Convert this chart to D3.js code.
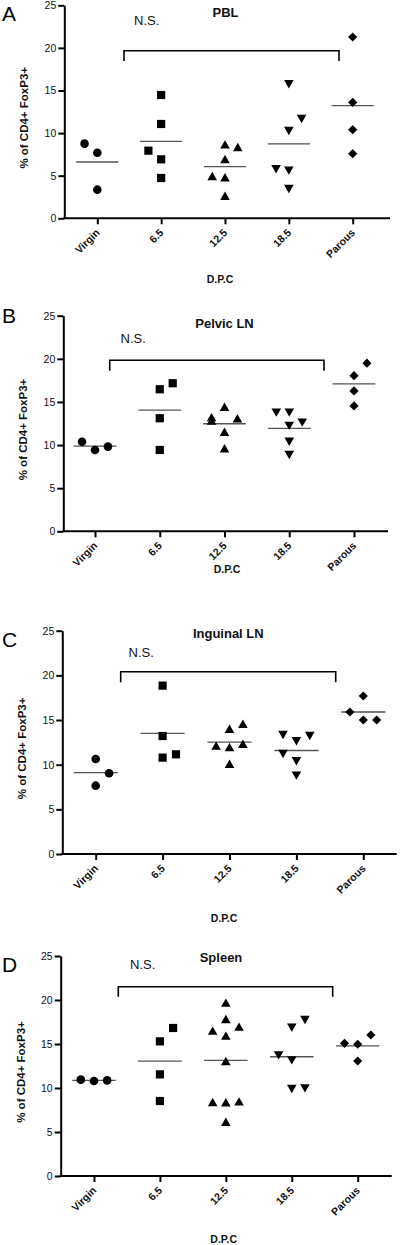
<!DOCTYPE html>
<html><head><meta charset="utf-8">
<script src="https://cdn.jsdelivr.net/npm/d3@7"></script>
<style>
html,body{margin:0;padding:0;background:#fff;}
svg{display:block;font-family:"Liberation Sans",Arial,sans-serif;}
</style></head>
<body>
<svg id="chart" width="400" height="1245"></svg>
<script>
// ---- data ----
const categories = ["Virgin", "6.5", "12.5", "18.5", "Parous"];
const panelLetters = ["A", "B", "C", "D"];
const panelTitles = ["PBL", "Pelvic LN", "Inguinal LN", "Spleen"];
const yTicks = [0, 5, 10, 15, 20, 25];
const yLabel = "% of CD4+ FoxP3+";
const xLabel = "D.P.C";
const sigLabel = "N.S.";

const pblValues = [[8.76, 7.70, 3.36], [14.47, 11.07, 7.94, 6.92, 4.73], [8.68, 8.37, 6.96, 4.96, 4.81, 2.65], [15.73, 11.65, 10.25, 5.75, 5.59, 3.44], [21.28, 13.6, 10.4, 7.58]];
const pblSlots  = [[-1, 0, 0], [0, 0, -1, 0, 0], [0, 1, 0, -1, 0, 0], [0, 1, 0, -1, 0, 0], [0, 0, 0, 0]];

const pelvicValues = [[10.39, 9.43, 9.82], [17.17, 16.47, 13.11, 9.43], [14.45, 13.24, 12.83, 13.11, 11.55, 9.63], [13.76, 13.76, 12.22, 12.6, 10.39, 8.85], [19.49, 18.05, 16.28, 14.54]];
const pelvicSlots  = [[-1, 0, 1], [1, 0, 0, 0], [0, -1, -1, 1, 0, 0], [-1, 0, 0, 1, 0, 0], [1, 0, 0, 0]];

const inguinalValues = [[10.64, 9.04, 7.65], [18.85, 13.21, 11.16, 10.79], [14.59, 14.03, 12.13, 12.35, 11.98, 10.11], [13.33, 13.21, 12.62, 11.2, 10.38, 8.77], [17.69, 15.9, 15.0, 15.0]];
const inguinalSlots  = [[0, 1, 0], [0, 0, 1, 0], [1, 0, -1, 1, 0, 0], [-1, 1, 0, -1, 0, 0], [0, -1, 0, 1]];

const spleenValues = [[10.95, 10.8, 10.87], [16.82, 15.3, 11.55, 8.52], [19.7, 17.84, 16.52, 16.97, 15.95, 13.07, 8.41, 8.38, 8.48, 6.17], [17.73, 16.86, 13.71, 13.14, 9.89, 9.96], [16.02, 15.08, 14.97, 13.07]];
const spleenSlots  = [[-1, 0, 1], [1, 0, 0, 0], [0, 0, -1, 1, 0, 0, -1, 0, 1, 0], [1, 0, -1, 0, 0, 1], [1, -1, 0, 0]];

const allValues = [pblValues, pelvicValues, inguinalValues, spleenValues];
const allSlots = [pblSlots, pelvicSlots, inguinalSlots, spleenSlots];

// ---- layout (per panel) ----
const layout = [
  {yTop: 5.3, yBot: 218.3, xL: 64.3, xR: 390, c0: 97.3, c4: 352.7, letterY: 20.7, titleX: 225.5, titleY: 16.7, nsX: 134, nsY: 25, brY: 50.7, brX1: 124, brX2: 339, brDrop: 61, dpcX: 220, dpcY: 282.7},
  {yTop: 315.7, yBot: 531.3, xL: 63.3, xR: 388, c0: 95, c4: 354, letterY: 322.7, titleX: 224.5, titleY: 327.7, nsX: 120.5, nsY: 343, brY: 360.3, brX1: 109.7, brX2: 324, brDrop: 370.7, dpcX: 227, dpcY: 573.3},
  {yTop: 630.7, yBot: 854, xL: 62.3, xR: 396.7, c0: 95.7, c4: 363.3, letterY: 646.7, titleX: 228.3, titleY: 638.3, nsX: 128.5, nsY: 656.7, brY: 671.7, brX1: 120.7, brX2: 335.7, brDrop: 682.3, dpcX: 224, dpcY: 921.7},
  {yTop: 956, yBot: 1176, xL: 60.7, xR: 391.7, c0: 94, c4: 357.7, letterY: 971.7, titleX: 221, titleY: 961.7, nsX: 130, nsY: 969.3, brY: 986.7, brX1: 118.3, brX2: 332.7, brDrop: 996.7, dpcX: 223.7, dpcY: 1243.3}
];

const svg = d3.select("#chart");

function markerPath(type) {
  if (type === 0) { const r = 4.3; return `M${-r},0A${r},${r} 0 1,0 ${r},0A${r},${r} 0 1,0 ${-r},0Z`; }
  if (type === 1) { const s = 4.1; return `M${-s},${-s}H${s}V${s}H${-s}Z`; }
  if (type === 2) { const w = 4.8, h = 4.2; return `M0,${-h}L${w},${h}L${-w},${h}Z`; }
  if (type === 3) { const w = 4.8, h = 4.2; return `M0,${h}L${w},${-h}L${-w},${-h}Z`; }
  const d = 4.6; return `M0,${-d}L${d},0L0,${d}L${-d},0Z`;
}

layout.forEach((L, pi) => {
  const g = svg.append("g");
  const y = d3.scaleLinear().domain([0, 25]).range([L.yBot, L.yTop]);
  const x = d3.scalePoint().domain(categories).range([L.c0, L.c4]);
  const step = x.step();

  // y axis
  const ya = g.append("g").attr("transform", `translate(${L.xL},0)`)
    .call(d3.axisLeft(y).tickValues(yTicks).tickSize(6).tickSizeOuter(0).tickPadding(2).tickFormat(d3.format("d")));
  ya.select(".domain").attr("stroke", "#000").attr("stroke-width", 2);
  ya.selectAll(".tick line").attr("stroke", "#000").attr("stroke-width", 2);
  ya.selectAll(".tick text").attr("font-size", 10.5).attr("fill", "#111")
    .attr("font-family", "Liberation Sans, Arial, sans-serif");

  // x axis
  g.append("line").attr("x1", L.xL - 1).attr("x2", L.xR).attr("y1", L.yBot).attr("y2", L.yBot)
    .attr("stroke", "#000").attr("stroke-width", 2);
  const xa = g.append("g").attr("transform", `translate(0,${L.yBot})`)
    .call(d3.axisBottom(x).tickSize(6).tickSizeOuter(0).tickFormat(""));
  xa.select(".domain").remove();
  xa.selectAll(".tick line").attr("stroke", "#000").attr("stroke-width", 2);
  g.selectAll(".xlab").data(categories).enter().append("text")
    .attr("class", "xlab")
    .attr("transform", d => `translate(${x(d) + 3},${L.yBot + 15}) rotate(-45)`)
    .attr("text-anchor", "end")
    .attr("font-size", 10.5).attr("font-weight", "bold").attr("fill", "#111")
    .text(d => d);

  // axis labels
  g.append("text")
    .attr("transform", `translate(${L.xL - 36},${(L.yTop + L.yBot) / 2 + 6}) rotate(-90)`)
    .attr("text-anchor", "middle").attr("font-size", 11.5).attr("font-weight", "bold").attr("fill", "#111")
    .text(yLabel);
  g.append("text").attr("x", L.dpcX).attr("y", L.dpcY).attr("text-anchor", "middle")
    .attr("font-size", 10.5).attr("font-weight", "bold").attr("fill", "#111").text(xLabel);

  // letter & title
  g.append("text").attr("x", 2).attr("y", L.letterY).attr("font-size", 21).attr("fill", "#000").text(panelLetters[pi]);
  g.append("text").attr("x", L.titleX).attr("y", L.titleY).attr("text-anchor", "middle")
    .attr("font-size", 13).attr("font-weight", "bold").attr("fill", "#111").text(panelTitles[pi]);

  // significance bracket
  g.append("text").attr("x", L.nsX).attr("y", L.nsY).attr("font-size", 13).attr("fill", "#111").text(sigLabel);
  g.append("path")
    .attr("d", `M${L.brX1},${L.brDrop}V${L.brY}H${L.brX2}V${L.brDrop}`)
    .attr("fill", "none").attr("stroke", "#000").attr("stroke-width", 1.6);

  // points + means
  const vals = allValues[pi], slots = allSlots[pi];
  categories.forEach((c, ci) => {
    const m = d3.mean(vals[ci]);
    g.append("line").attr("x1", x(c) - step * 0.33).attr("x2", x(c) + step * 0.33)
      .attr("y1", y(m)).attr("y2", y(m)).attr("stroke", "#555").attr("stroke-width", 1.3);
    g.selectAll(null).data(vals[ci].map((v, k) => ({v, s: slots[ci][k]}))).enter().append("path")
      .attr("d", markerPath(ci))
      .attr("transform", d => `translate(${x(c) + d.s * step * 0.2},${y(d.v)})`)
      .attr("fill", "#000");
  });
});
</script>
</body></html>
